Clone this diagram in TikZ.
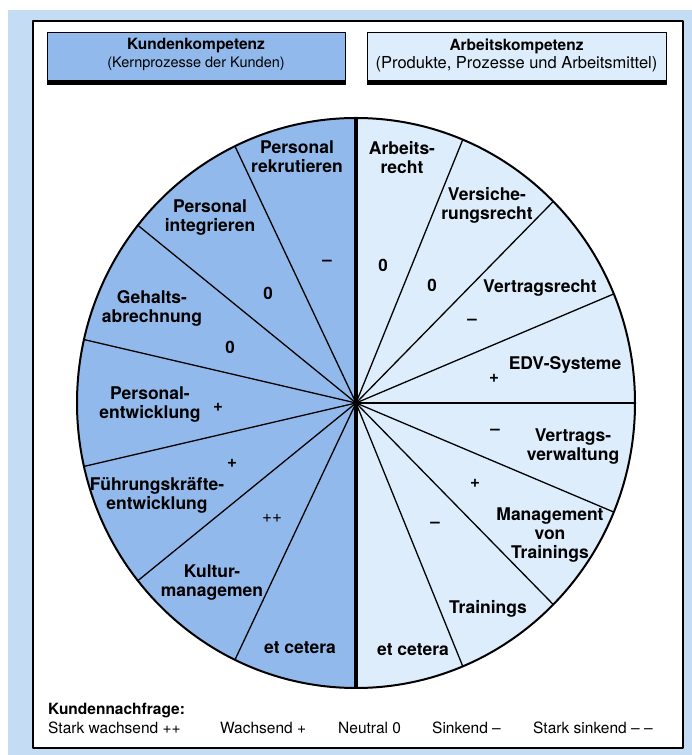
\documentclass[tikz,border=0pt]{standalone}
\usepackage{fontspec}
\setmainfont{TeX Gyre Heros}
\usepackage{tikz}
\usetikzlibrary{calc}
\definecolor{rahmenblau}{RGB}{197,220,245}
\definecolor{kundenblau}{RGB}{146,185,235}
\definecolor{arbeitsblau}{RGB}{221,237,251}

\begin{document}
\begin{tikzpicture}[x=1pt,y=1pt,line join=round,
  sektor/.style={font=\bfseries\fontsize{17.5}{19}\selectfont,align=center,inner sep=0pt},
  wert/.style={font=\bfseries\fontsize{17}{18}\selectfont,inner sep=0pt},
  kopf/.style={draw=black,line width=1pt},
  speiche/.style={line width=1.3pt},
  legende/.style={font=\fontsize{15.5}{18}\selectfont,anchor=west,inner sep=0pt}]
  \useasboundingbox (0,0) rectangle (692,755);
  \fill[white] (0,0) rectangle (692,755);
  \fill[rahmenblau] (8,0) rectangle (692,745);
  \draw[fill=white,line width=1.2pt] (33,7) rectangle (683,734);
  % Kopfzeilen
  \draw[kopf,fill=kundenblau] (47,670) rectangle (345,722);
  \fill (47,670) rectangle (345,675);
  \draw[kopf,fill=arbeitsblau] (367,670) rectangle (666,722);
  \fill (367,670) rectangle (666,675);
  \node[font=\bfseries\fontsize{15.5}{18}\selectfont] (kkTitel) at (196,709) {Kundenkompetenz};
  \node[font=\fontsize{14.5}{18}\selectfont] (kkUnter) at (196,691) {(Kernprozesse der Kunden)};
  \node[font=\bfseries\fontsize{15.5}{18}\selectfont] (akTitel) at (516.5,709) {Arbeitskompetenz};
  \node[font=\fontsize{16.5}{18}\selectfont] (akUnter) at (516.5,691) {(Produkte, Prozesse und Arbeitsmittel)};
  % Kreis
  \coordinate (C) at (356,352);
  \coordinate (oben) at (356,637);
  \coordinate (unten) at (356,67);
  \fill[kundenblau] (oben) arc[start angle=90,end angle=270,x radius=279,y radius=285] -- cycle;
  \fill[arbeitsblau] (unten) arc[start angle=-90,end angle=90,x radius=279,y radius=285] -- cycle;
  \draw[speiche] (C) -- ++(115.71:279 and 285);
  \draw[speiche] (C) -- ++(141.43:279 and 285);
  \draw[speiche] (C) -- ++(167.14:279 and 285);
  \draw[speiche] (C) -- ++(192.86:279 and 285);
  \draw[speiche] (C) -- ++(218.57:279 and 285);
  \draw[speiche] (C) -- ++(244.29:279 and 285);
  \draw[speiche] (C) -- ++(67.5:279 and 285);
  \draw[speiche] (C) -- ++(45:279 and 285);
  \draw[speiche] (C) -- ++(22.5:279 and 285);
  \draw[speiche] (C) -- ++(0:279 and 285);
  \draw[speiche] (C) -- ++(-22.5:279 and 285);
  \draw[speiche] (C) -- ++(-45:279 and 285);
  \draw[speiche] (C) -- ++(-67.5:279 and 285);
  \draw[line width=2pt] (C) ellipse[x radius=279,y radius=285];
  \draw[line width=3.2pt] (oben) -- (unten);
  % Kundenkompetenz
  \node[sektor] (rekrutieren) at (297,598) {Personal\\rekrutieren};
  \node[sektor] (integrieren) at (210,537) {Personal\\integrieren};
  \node[sektor] (gehalt) at (152,447) {Gehalts-\\abrechnung};
  \node[sektor] (entwicklung) at (150,350) {Personal-\\entwicklung};
  \node[sektor] (fuehrung) at (157,260) {Führungskräfte-\\entwicklung};
  \node[sektor] (kultur) at (212,172) {Kultur-\\managemen};
  \node[sektor] (etcL) at (300,107) {et cetera};
  \node[wert] (wRekrutieren) at (327,492) {--};
  \node[wert] (wIntegrieren) at (268,462) {0};
  \node[wert] (wGehalt) at (230,408) {0};
  \node[wert] (wEntwicklung) at (218,348) {+};
  \node[wert] (wFuehrung) at (232,292) {+};
  \node[font=\fontsize{17}{18}\selectfont,inner sep=0pt] (wKultur) at (272,237) {++};
  % Arbeitskompetenz
  \node[sektor] (arbeitsrecht) at (402,597) {Arbeits-\\recht};
  \node[sektor] (versicherung) at (487,550) {Versiche-\\rungsrecht};
  \node[sektor] (vertragsrecht) at (540,467) {Vertragsrecht};
  \node[sektor] (edv) at (565,390) {EDV-Systeme};
  \node[sektor] (verwaltung) at (573,308) {Vertrags-\\verwaltung};
  \node[sektor] (management) at (550,220) {Management\\von\\Trainings};
  \node[sektor] (trainings) at (488,146) {Trainings};
  \node[sektor] (etcR) at (413,105) {et cetera};
  \node[wert] (wArbeitsrecht) at (383,490) {0};
  \node[wert] (wVersicherung) at (432,470) {0};
  \node[wert] (wVertragsrecht) at (472,433) {--};
  \node[wert] (wEdv) at (494,377) {+};
  \node[wert] (wVerwaltung) at (495,323) {--};
  \node[wert] (wManagement) at (475,272) {+};
  \node[wert] (wTrainings) at (435,230) {--};
  % Legende
  \node[legende,font=\bfseries\fontsize{15.5}{18}\selectfont] (nachfrage) at (48,44) {Kundennachfrage:};
  \node[legende] (starkW) at (48,27) {Stark wachsend ++};
  \node[legende] (wachsend) at (220,27) {Wachsend +};
  \node[legende] (neutral) at (338,27) {Neutral 0};
  \node[legende] (sinkend) at (432,27) {Sinkend --};
  \node[legende] (starkS) at (533,27) {Stark sinkend -- --};
\end{tikzpicture}
\end{document}
